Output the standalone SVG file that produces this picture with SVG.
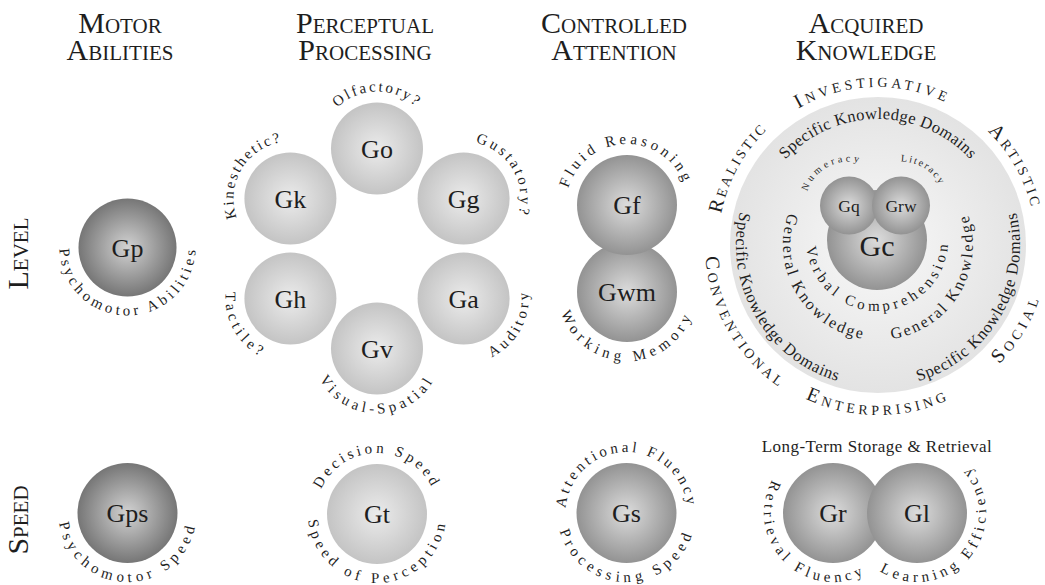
<svg xmlns="http://www.w3.org/2000/svg" width="1045" height="585" viewBox="0 0 1045 585">
  <defs>
    <!-- ball shadings -->
    <radialGradient id="gDark"><stop offset="0" stop-color="#d2d2d2"/><stop offset="1" stop-color="#767676"/></radialGradient>
    <radialGradient id="gMid"><stop offset="0" stop-color="#dcdcdc"/><stop offset="1" stop-color="#939393"/></radialGradient>
    <radialGradient id="gLight"><stop offset="0" stop-color="#ebebeb"/><stop offset="1" stop-color="#c4c4c4"/></radialGradient>
    <radialGradient id="gDisc"><stop offset="0" stop-color="#f8f8f8"/><stop offset="1" stop-color="#e3e3e3"/></radialGradient>

    <!-- label arcs centred on the origin: o* run clockwise over the top, i* run anticlockwise under the bottom -->
    <path id="o44" d="M -38.105 22 A 44 44 0 1 1 38.105 22"/>
    <path id="o57" d="M -49.363 28.5 A 57 57 0 1 1 49.363 28.5"/>
    <path id="o61" d="M -52.827 30.5 A 61 61 0 1 1 52.827 30.5"/>
    <path id="o126" d="M -109.119 63 A 126 126 0 1 1 109.119 63"/>
    <path id="o158" d="M -136.832 79 A 158 158 0 1 1 136.832 79"/>
    <path id="o160" d="M -138.564 80 A 160 160 0 1 1 138.564 80"/>
    <path id="i65" d="M -56.292 -32.5 A 65 65 0 1 0 56.292 -32.5"/>
    <path id="i68" d="M -58.890 -34 A 68 68 0 1 0 58.890 -34"/>
    <path id="i69" d="M -59.756 -34.5 A 69 69 0 1 0 59.756 -34.5"/>
    <path id="i71" d="M -61.488 -35.5 A 71 71 0 1 0 61.488 -35.5"/>
    <path id="i95" d="M -82.272 -47.5 A 95 95 0 1 0 82.272 -47.5"/>
    <path id="i142" d="M -122.976 -71 A 142 142 0 1 0 122.976 -71"/>
    <path id="i170" d="M -147.224 -85 A 170 170 0 1 0 147.224 -85"/>
    <path id="i173" d="M -149.822 -86.5 A 173 173 0 1 0 149.822 -86.5"/>
  </defs>
  <style>
    text { font-family: "Liberation Serif", "Times New Roman", "DejaVu Serif", serif; fill: #1e1e1e; }
    .head { font-size: 30px; font-variant: small-caps; text-anchor: middle; }
    .sym { font-size: 26px; text-anchor: middle; }
    .lbl { font-size: 15px; text-anchor: middle; }
    .ria { font-size: 20px; font-variant: small-caps; text-anchor: middle; }
  </style>

  <rect width="1045" height="585" fill="#ffffff"/>

  <!-- column headings -->
  <g id="headings">
    <text class="head" x="120" y="33">Motor</text>
    <text class="head" x="120" y="60">Abilities</text>
    <text class="head" x="365" y="33">Perceptual</text>
    <text class="head" x="365" y="60">Processing</text>
    <text class="head" x="614" y="33">Controlled</text>
    <text class="head" x="614" y="60">Attention</text>
    <text class="head" x="866" y="33">Acquired</text>
    <text class="head" x="866" y="60">Knowledge</text>
  </g>

  <!-- row headings -->
  <g id="rows">
    <text class="head" transform="translate(28 253.5) rotate(-90)">Level</text>
    <text class="head" transform="translate(28 520) rotate(-90)">Speed</text>
  </g>

  <!-- Motor abilities -->
  <g id="Gp">
    <circle cx="127.5" cy="247.5" r="49" fill="url(#gDark)"/>
    <text class="sym" x="127.5" y="256.5">Gp</text>
    <g transform="translate(127.5 247.5) rotate(-1)"><text class="lbl" style="letter-spacing:3.77px"><textPath href="#i68" startOffset="50%">Psychomotor Abilities</textPath></text></g>
  </g>
  <g id="Gps">
    <circle cx="127.5" cy="513" r="50" fill="url(#gDark)"/>
    <text class="sym" x="127.5" y="522">Gps</text>
    <g transform="translate(127.5 513)"><text class="lbl" style="letter-spacing:4.53px"><textPath href="#i69" startOffset="50%">Psychomotor Speed</textPath></text></g>
  </g>

  <!-- Perceptual processing -->
  <g id="Go">
    <circle cx="377" cy="148.5" r="46" fill="url(#gLight)"/>
    <text class="sym" x="377" y="157.5">Go</text>
    <g transform="translate(377 148.5)"><text class="lbl" style="letter-spacing:2.37px"><textPath href="#o57" startOffset="50%">Olfactory?</textPath></text></g>
  </g>
  <g id="Gk">
    <circle cx="290.4" cy="198.5" r="46" fill="url(#gLight)"/>
    <text class="sym" x="290.4" y="207.5">Gk</text>
    <g transform="translate(290.4 198.5) rotate(-59)"><text class="lbl" style="letter-spacing:2.18px"><textPath href="#o57" startOffset="50%">Kinesthetic?</textPath></text></g>
  </g>
  <g id="Gg">
    <circle cx="463.6" cy="198.5" r="46" fill="url(#gLight)"/>
    <text class="sym" x="463.6" y="207.5">Gg</text>
    <g transform="translate(463.6 198.5) rotate(60)"><text class="lbl" style="letter-spacing:2.96px"><textPath href="#o57" startOffset="50%">Gustatory?</textPath></text></g>
  </g>
  <g id="Gh">
    <circle cx="290.4" cy="298.5" r="46" fill="url(#gLight)"/>
    <text class="sym" x="290.4" y="307.5">Gh</text>
    <g transform="translate(290.4 298.5) rotate(60)"><text class="lbl" style="letter-spacing:4.2px"><textPath href="#i65" startOffset="50%">Tactile?</textPath></text></g>
  </g>
  <g id="Ga">
    <circle cx="463.6" cy="298.5" r="46" fill="url(#gLight)"/>
    <text class="sym" x="463.6" y="307.5">Ga</text>
    <g transform="translate(463.6 298.5) rotate(-62)"><text class="lbl" style="letter-spacing:3.55px"><textPath href="#i65" startOffset="50%">Auditory</textPath></text></g>
  </g>
  <g id="Gv">
    <circle cx="377" cy="348.5" r="46" fill="url(#gLight)"/>
    <text class="sym" x="377" y="357.5">Gv</text>
    <g transform="translate(377 348.5)"><text class="lbl" style="letter-spacing:4px"><textPath href="#i65" startOffset="50%">Visual-Spatial</textPath></text></g>
  </g>
  <g id="Gt">
    <circle cx="377" cy="514" r="50" fill="url(#gLight)"/>
    <text class="sym" x="377" y="523">Gt</text>
    <g transform="translate(377 514)"><text class="lbl" style="letter-spacing:3.35px"><textPath href="#o61" startOffset="50%">Decision Speed</textPath></text></g>
    <g transform="translate(377 514)"><text class="lbl" style="letter-spacing:4.38px"><textPath href="#i69" startOffset="50%">Speed of Perception</textPath></text></g>
  </g>

  <!-- Controlled attention -->
  <g id="Gwm">
    <circle cx="627" cy="292" r="50" fill="url(#gMid)"/>
    <text class="sym" x="627" y="301">Gwm</text>
    <g transform="translate(627 292)"><text class="lbl" style="letter-spacing:4.78px"><textPath href="#i69" startOffset="50%">Working Memory</textPath></text></g>
  </g>
  <g id="Gf">
    <circle cx="627" cy="205" r="50" fill="url(#gMid)"/>
    <text class="sym" x="627" y="214">Gf</text>
    <g transform="translate(627 205) rotate(-1.5)"><text class="lbl" style="letter-spacing:3.71px"><textPath href="#o61" startOffset="50%">Fluid Reasoning</textPath></text></g>
  </g>
  <g id="Gs">
    <circle cx="626.5" cy="513" r="50" fill="url(#gMid)"/>
    <text class="sym" x="626.5" y="522">Gs</text>
    <g transform="translate(626.5 513)"><text class="lbl" style="letter-spacing:3.28px"><textPath href="#o61" startOffset="50%">Attentional Fluency</textPath></text></g>
    <g transform="translate(626.5 513)"><text class="lbl" style="letter-spacing:4.66px"><textPath href="#i69" startOffset="50%">Processing Speed</textPath></text></g>
  </g>

  <!-- Acquired knowledge -->
  <g id="knowledge-domains">
    <circle cx="878" cy="245" r="148" fill="url(#gDisc)"/>
    <g transform="translate(878 245)" class="lbl" style="font-size:16.5px">
      <text style="letter-spacing:0.38px"><textPath href="#o126" startOffset="50%">Specific Knowledge Domains</textPath></text>
      <text transform="rotate(60)" style="letter-spacing:0.68px"><textPath href="#i142" startOffset="50%">Specific Knowledge Domains</textPath></text>
      <text transform="rotate(-60)" style="letter-spacing:0.68px"><textPath href="#i142" startOffset="50%">Specific Knowledge Domains</textPath></text>
    </g>
    <g transform="translate(878 245)" class="lbl" style="font-size:16px">
      <text transform="rotate(59)" style="letter-spacing:2.33px"><textPath href="#i95" startOffset="50%">General Knowledge</textPath></text>
      <text transform="rotate(-59)" style="letter-spacing:2.33px"><textPath href="#i95" startOffset="50%">General Knowledge</textPath></text>
    </g>
  </g>
  <g id="interests" transform="translate(878 245)">
    <text class="ria" transform="rotate(-2)" style="letter-spacing:3.75px"><textPath href="#o158" startOffset="50%">Investigative</textPath></text>
    <text class="ria" transform="rotate(-61)" style="letter-spacing:2.6px"><textPath href="#o160" startOffset="50%">Realistic</textPath></text>
    <text class="ria" transform="rotate(60.5)" style="letter-spacing:3.1px"><textPath href="#o158" startOffset="50%">Artistic</textPath></text>
    <text class="ria" transform="rotate(60)" style="letter-spacing:3.55px"><textPath href="#i173" startOffset="50%">Conventional</textPath></text>
    <text class="ria" style="letter-spacing:3.9px"><textPath href="#i170" startOffset="50%">Enterprising</textPath></text>
    <text class="ria" transform="rotate(-59)" style="letter-spacing:4.4px"><textPath href="#i170" startOffset="50%">Social</textPath></text>
  </g>
  <g id="Gc">
    <circle cx="877" cy="240" r="50" fill="url(#gMid)"/>
    <text class="sym" x="877" y="256" style="font-size:30px">Gc</text>
    <g transform="translate(877 240) rotate(-2.5)"><text class="lbl" style="letter-spacing:3.84px"><textPath href="#i71" startOffset="50%">Verbal Comprehension</textPath></text></g>
  </g>
  <g id="Gq">
    <circle cx="849" cy="205.5" r="29" fill="url(#gMid)"/>
    <text class="sym" x="849" y="211.5" style="font-size:17.5px">Gq</text>
    <g transform="translate(849 205.5) rotate(-27.5)"><text class="lbl" style="font-size:10px;letter-spacing:3.2px"><textPath href="#o44" startOffset="50%">Numeracy</textPath></text></g>
  </g>
  <g id="Grw">
    <circle cx="901" cy="205.5" r="29" fill="url(#gMid)"/>
    <text class="sym" x="901" y="211.5" style="font-size:17.5px">Grw</text>
    <g transform="translate(901 205.5) rotate(31.4)"><text class="lbl" style="font-size:10px;letter-spacing:1.9px"><textPath href="#o44" startOffset="50%">Literacy</textPath></text></g>
  </g>

  <!-- Long-term storage and retrieval -->
  <g id="Glr">
    <text x="877" y="452" style="font-size:17px;letter-spacing:0.45px;text-anchor:middle">Long-Term Storage &amp; Retrieval</text>
  </g>
  <g id="Gr">
    <circle cx="833" cy="513" r="50" fill="url(#gMid)"/>
    <text class="sym" x="833" y="522">Gr</text>
    <g transform="translate(833 513) rotate(44.5)"><text class="lbl" style="letter-spacing:4.18px"><textPath href="#i69" startOffset="50%">Retrieval Fluency</textPath></text></g>
  </g>
  <g id="Gl">
    <circle cx="917" cy="513" r="50" fill="url(#gMid)"/>
    <text class="sym" x="917" y="522">Gl</text>
    <g transform="translate(917 513) rotate(-51)"><text class="lbl" style="letter-spacing:4.28px"><textPath href="#i69" startOffset="50%">Learning Efficiency</textPath></text></g>
  </g>
</svg>
